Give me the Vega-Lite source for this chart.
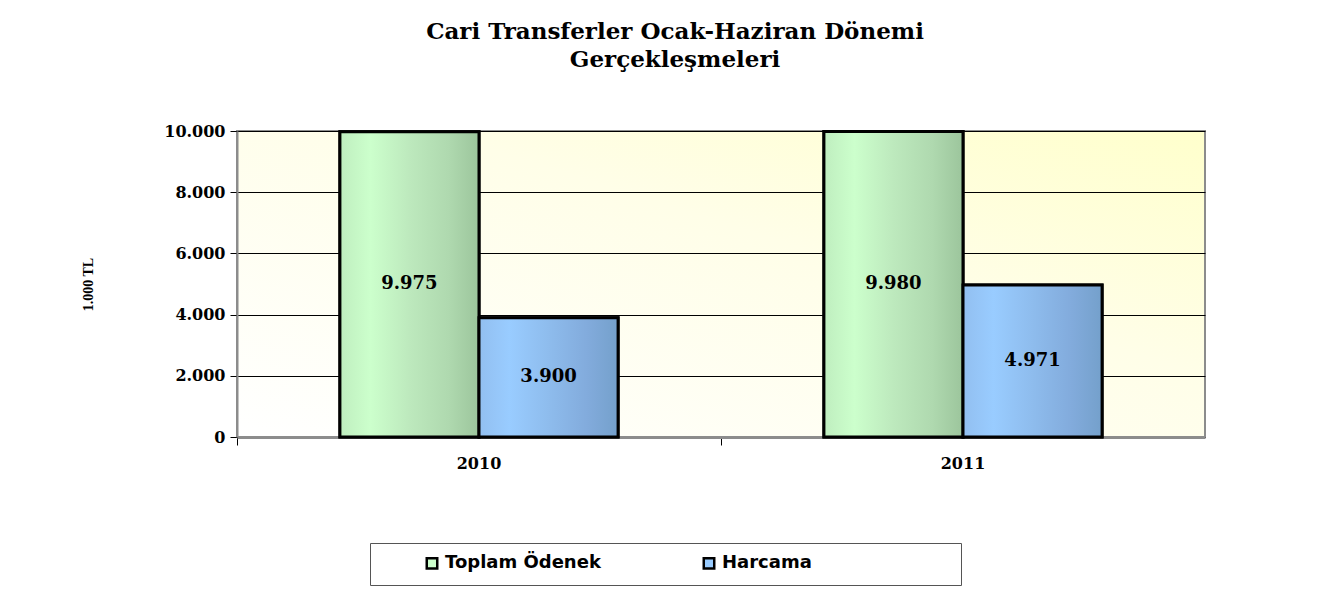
{
  "$schema": "https://vega.github.io/schema/vega-lite/v6.json",
  "width": 968,
  "height": 306,
  "autosize": {"type": "none"},
  "padding": {"left": 237, "top": 131, "right": 137, "bottom": 159},
  "background": "white",
  "title": {
    "text": ["Cari Transferler Ocak-Haziran Dönemi", "Gerçekleşmeleri"],
    "font": "DejaVu Serif",
    "fontSize": 23,
    "fontWeight": "bold",
    "lineHeight": 28,
    "anchor": "middle",
    "dx": -46,
    "offset": 51,
    "color": "black"
  },
  "data": {
    "values": [
      {"year": "2010", "series": "Toplam Ödenek", "value": 9975},
      {"year": "2010", "series": "Harcama", "value": 3900},
      {"year": "2011", "series": "Toplam Ödenek", "value": 9980},
      {"year": "2011", "series": "Harcama", "value": 4971}
    ]
  },
  "encoding": {
    "x": {
      "field": "year",
      "type": "nominal",
      "scale": {"domain": ["2010", "2011"], "paddingInner": 0, "paddingOuter": 0},
      "axis": {
        "title": null,
        "labelAngle": 0,
        "labelFont": "DejaVu Serif",
        "labelFontSize": 16,
        "labelFontWeight": "bold",
        "labelColor": "black",
        "labelPadding": 10,
        "domainColor": "#8c8c8c",
        "domainWidth": 3,
        "tickColor": "black",
        "tickSize": 8,
        "bandPosition": 0
      }
    },
    "xOffset": {
      "field": "series",
      "type": "nominal",
      "scale": {"domain": ["Toplam Ödenek", "Harcama"], "paddingInner": 0, "paddingOuter": 0.74}
    }
  },
  "layer": [
    {
      "layer": [
        {
          "mark": {"type": "bar", "stroke": "black", "strokeWidth": 3},
          "encoding": {
            "y": {
              "field": "value",
              "type": "quantitative",
              "scale": {"domain": [0, 10000], "nice": false},
              "axis": {
                "values": [0, 2000, 4000, 6000, 8000, 10000],
                "labelExpr": "replace(format(datum.value, ','), ',', '.')",
                "labelFont": "DejaVu Serif",
                "labelFontSize": 16,
                "labelFontWeight": "bold",
                "labelColor": "black",
                "labelPadding": 5,
                "tickColor": "black",
                "tickSize": 7,
                "domainColor": "#8c8c8c",
                "domainWidth": 2,
                "gridColor": "black",
                "gridWidth": 1,
                "title": "1.000 TL",
                "titleFont": "Liberation Serif",
                "titleFontSize": 14,
                "titleFontWeight": "bold",
                "titleColor": "black",
                "titlePadding": 68
              }
            },
            "color": {
              "field": "series",
              "type": "nominal",
              "scale": {"domain": ["Toplam Ödenek", "Harcama"], "range": ["#ccffcc", "#99ccff"]},
              "legend": {
                "title": null,
                "orient": "none",
                "legendX": 133,
                "legendY": 412,
                "direction": "horizontal",
                "strokeColor": "#555555",
                "fillColor": "white",
                "padding": 11,
                "symbolOffset": 42,
                "columnPadding": 57,
                "symbolType": "square",
                "symbolSize": 110,
                "symbolStrokeColor": "black",
                "symbolStrokeWidth": 2.5,
                "labelFont": "DejaVu Sans",
                "labelFontSize": 18,
                "labelFontWeight": "bold",
                "labelColor": "black",
                "labelLimit": 600,
                "labelExpr": "datum.label == 'Harcama' ? datum.label + '\u00a0\u00a0\u00a0\u00a0\u00a0\u00a0\u00a0\u00a0\u00a0\u00a0\u00a0\u00a0\u00a0\u00a0\u00a0\u00a0\u00a0\u00a0\u00a0\u00a0\u00a0\u00a0\u200b' : datum.label"
              }
            }
          }
        },
        {
          "transform": [{"filter": "datum.series === 'Toplam Ödenek'"}],
          "mark": {
            "type": "bar",
            "stroke": "black",
            "strokeWidth": 3,
            "color": {
              "gradient": "linear",
              "x1": 0, "y1": 0, "x2": 1, "y2": 0,
              "stops": [
                {"offset": 0, "color": "#bfeebf"},
                {"offset": 0.22, "color": "#ccffcc"},
                {"offset": 0.5, "color": "#bde9bd"},
                {"offset": 0.78, "color": "#afd9af"},
                {"offset": 1, "color": "#9cc59c"}
              ]
            }
          },
          "encoding": {
            "y": {"field": "value", "type": "quantitative"}
          }
        },
        {
          "transform": [{"filter": "datum.series === 'Harcama'"}],
          "mark": {
            "type": "bar",
            "stroke": "black",
            "strokeWidth": 3,
            "color": {
              "gradient": "linear",
              "x1": 0, "y1": 0, "x2": 1, "y2": 0,
              "stops": [
                {"offset": 0, "color": "#92bff0"},
                {"offset": 0.22, "color": "#99ccff"},
                {"offset": 0.5, "color": "#8ebced"},
                {"offset": 0.78, "color": "#82abdc"},
                {"offset": 1, "color": "#74a0cb"}
              ]
            }
          },
          "encoding": {
            "y": {"field": "value", "type": "quantitative"}
          }
        }
      ]
    },
    {
      "mark": {
        "type": "text",
        "font": "DejaVu Serif",
        "fontSize": 18,
        "fontWeight": "bold",
        "color": "black",
        "baseline": "middle"
      },
      "encoding": {
        "y": {
          "field": "value",
          "type": "quantitative",
          "scale": {"domain": [0, 20000], "nice": false},
          "axis": null
        },
        "text": {"field": "value", "type": "quantitative", "format": ",.0f"}
      }
    }
  ],
  "resolve": {"scale": {"y": "independent"}},
  "config": {
    "locale": {
      "number": {"decimal": ",", "thousands": ".", "grouping": [3], "currency": ["", " TL"]}
    },
    "view": {
      "stroke": "#8c8c8c",
      "strokeWidth": 2,
      "fill": {
        "gradient": "linear",
        "x1": 0, "y1": 1, "x2": 1, "y2": 0,
        "stops": [
          {"offset": 0, "color": "#ffffff"},
          {"offset": 0.6, "color": "#fffee8"},
          {"offset": 1, "color": "#ffffcc"}
        ]
      }
    }
  }
}
